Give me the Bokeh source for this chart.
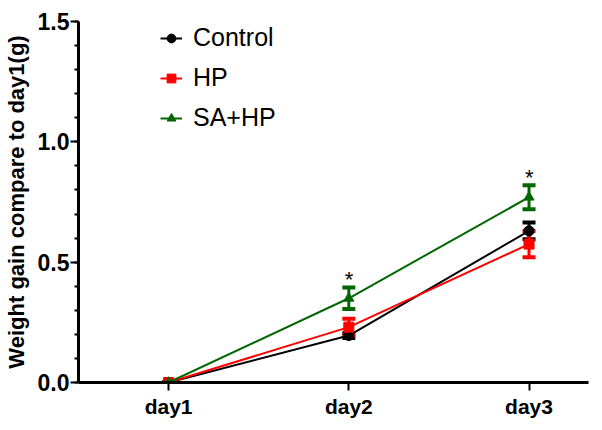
from bokeh.plotting import figure
from bokeh.models import (SingleIntervalTicker, Range1d, Whisker,
                          ColumnDataSource, Legend, LegendItem)
from bokeh.core.properties import value
from bokeh.embed import file_html
from bokeh.resources import INLINE

days = ["day1", "day2", "day3"]
xpos = [1, 2, 3]
control = [0.0, 0.195, 0.63]
control_err = [0.0, 0.01, 0.035]
hp = [0.0, 0.23, 0.575]
hp_err = [0.0, 0.035, 0.055]
sahp = [0.0, 0.35, 0.77]
sahp_err = [0.0, 0.045, 0.05]
star_days = [2, 3]
star_labels = ["*", "*"]

FONT = "Liberation Sans"

p = figure(width=594, height=422, output_backend="svg", toolbar_location=None,
           x_range=Range1d(0.5, 3.33), y_range=Range1d(0, 1.5),
           min_border_left=78, min_border_right=6, min_border_top=21, min_border_bottom=40)
p.outline_line_color = None
p.grid.visible = False

series = [
    ("Control", control, control_err, "black", "circle"),
    ("HP", hp, hp_err, "#ff0000", "square"),
    ("SA+HP", sahp, sahp_err, "#006600", "triangle"),
]
items = []
for name, vals, errs, col, mk in series:
    src = ColumnDataSource(dict(x=xpos, y=vals,
                                lo=[v - e for v, e in zip(vals, errs)],
                                hi=[v + e for v, e in zip(vals, errs)]))
    w = Whisker(source=src, base="x", lower="lo", upper="hi", line_color=col, line_width=3)
    for h in (w.upper_head, w.lower_head):
        h.size = 13
        h.line_color = col
        h.line_width = 4
    p.add_layout(w)
    l = p.line("x", "y", source=src, line_color=col, line_width=2)
    m = p.scatter("x", "y", source=src, marker=mk, size=10, fill_color=col, line_color=col)
    items.append(LegendItem(label=name, renderers=[l, m]))

star_y = [sahp[i] + sahp_err[i] for i in (1, 2)]
p.text(x=star_days, y=star_y, text=star_labels, x_offset=-4, y_offset=5,
       text_font=value(FONT), text_font_size="22px", text_color="black")

legend = Legend(items=items, location=(82, 250), orientation="vertical")
legend.padding = 0
legend.margin = 0
legend.label_text_font = FONT
legend.label_text_font_size = "25px"
legend.label_text_color = "black"
legend.label_height = 28
legend.glyph_height = 28
legend.glyph_width = 22
legend.label_standoff = 11
legend.spacing = 11
legend.border_line_color = None
legend.background_fill_alpha = 0
p.add_layout(legend, "center")

p.xaxis.ticker = SingleIntervalTicker(interval=1, num_minor_ticks=2)
p.xaxis.major_label_overrides = {x: d for x, d in zip(xpos, days)}

p.yaxis.ticker = SingleIntervalTicker(interval=0.5, num_minor_ticks=5)
p.yaxis.major_label_overrides = {0: "0.0", 0.5: "0.5", 1: "1.0", 1.5: "1.5"}
p.yaxis.axis_label = "Weight gain compare to day1(g)"

for ax in (p.xaxis[0], p.yaxis[0]):
    ax.axis_line_width = 3
    ax.axis_line_color = "black"
    ax.major_tick_line_width = 2
    ax.major_tick_line_color = "black"
    ax.major_tick_out = 8
    ax.major_tick_in = 0
    ax.minor_tick_line_width = 2
    ax.minor_tick_out = 4
    ax.minor_tick_in = 0
    ax.major_label_text_font = FONT
    ax.major_label_text_font_style = "bold"
    ax.major_label_text_color = "black"

p.xaxis[0].minor_tick_line_alpha = 0
p.xaxis[0].minor_tick_out = 0
p.xaxis[0].major_label_text_font_size = "21px"
p.xaxis[0].major_label_standoff = 4
p.yaxis[0].major_label_text_font_size = "23px"
p.yaxis[0].major_label_standoff = 1
p.yaxis[0].axis_label_text_font = FONT
p.yaxis[0].axis_label_text_font_style = "bold"
p.yaxis[0].axis_label_text_font_size = "22px"
p.yaxis[0].axis_label_text_color = "black"
p.yaxis[0].axis_label_standoff = 6

open("out.html", "w").write(file_html(p, INLINE))
